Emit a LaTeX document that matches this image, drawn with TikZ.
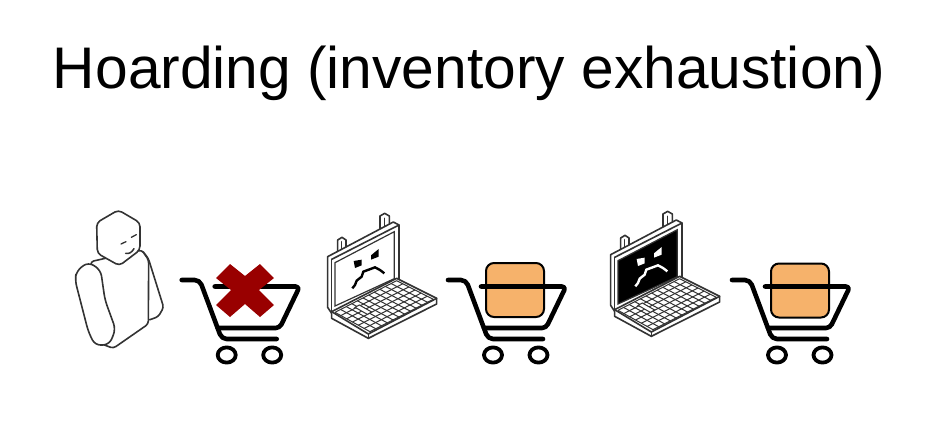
\documentclass[tikz,border=0pt]{standalone}
\usepackage{fontspec}
\setmainfont{Liberation Sans}
\usetikzlibrary{calc}
\definecolor{boxorange}{HTML}{F6B26B}
\definecolor{crossred}{HTML}{990000}
\definecolor{inkgrey}{HTML}{333333}
\tikzset{
    outline/.style={draw=inkgrey,line width=1.6pt,line join=round,line cap=round},
    cartline/.style={draw=black,line width=4.6pt,line cap=round,line join=round},
    goods/.style={draw=black,line width=2pt,fill=boxorange,rounded corners=8pt,minimum width=58pt,minimum height=54pt,inner sep=0pt},
    pics/cart/.style={code={
        %% frame
        \draw[cartline,rounded corners=5pt] (0,0) -- (18,0) -- (40,59) -- (95,59);
        \draw[cartline,rounded corners=4pt] (33,6.5) -- (118,6.5) -- (98,48) -- (36,48);
        %% wheels
        \draw[cartline,line width=3.8pt] (45,75) ellipse (9 and 7.6);
        \draw[cartline,line width=3.8pt] (90.5,75) ellipse (9 and 7.6);
    }},
    pics/laptop/.style n args={2}{code={
        \begin{scope}[x=0.3333pt,y=-0.3333pt]
            %% posts
            \draw[outline,fill=white] (38,127) -- (38,90) -- (51,82) -- (63,90) -- (63,115);
            \draw[outline] (50,95) -- (50,122);
            \draw[outline,fill=white] (165,68) -- (165,18) -- (179,10) -- (193,18) -- (193,55);
            \draw[outline] (178,25) -- (178,62);
            %% lid
            \draw[outline,fill=white] (8,140) -- (205,36) -- (222,45) -- (222,210) -- (20,310) -- (8,292) -- cycle;
            \draw[outline] (20,148) -- (222,45);
            \draw[outline] (20,148) -- (20,310);
            \fill[#1,draw=inkgrey,line width=1.2pt] (30,158) -- (208,65) -- (208,206) -- (30,288) -- cycle;
            %% face
            \fill[#2] (86,153) -- (110,149) -- (110,166) -- (90,174) -- cycle;
            \fill[#2] (138,136) -- (161,117) -- (161,140) -- (138,149) -- cycle;
            \draw[#2,line width=2.4pt] (82,235) -- (90,225) -- (95,212) -- (110,200) -- (115,185) -- (150,172) -- (165,180) -- (178,190);
            %% base
            \draw[outline,fill=white] (20,305) -- (215,205) -- (335,265) -- (335,282) -- (130,385) -- (20,325) -- cycle;
            \draw[outline] (20,305) -- (130,372) -- (335,265);
            \draw[outline] (130,372) -- (130,385);
            %% keys
            \foreach \t in {0,1,...,6}
                \draw[inkgrey,line width=1pt] ($(30,307)!\t/6!(135,365)$) -- ($(215,212)!\t/6!(325,268)$);
            \foreach \t in {0,1,...,11}
                \draw[inkgrey,line width=1pt] ($(30,307)!\t/11!(215,212)$) -- ($(135,365)!\t/11!(325,268)$);
            \draw[inkgrey,line width=1pt,fill=white] (90,292) -- (103,285) -- (140,306) -- (127,313) -- cycle;
        \end{scope}
    }},
}
\begin{document}
\begin{tikzpicture}[x=1pt,y=-1pt]
    \useasboundingbox (0,0) rectangle (950,432);
    %% title
    \node[font=\fontsize{58.7}{64}\selectfont] (title) at (469,73) {Hoarding (inventory exhaustion)};
    %% person
    \begin{scope}[shift={(60,200)},x=0.3333pt,y=-0.3333pt]
        \draw[outline,fill=white,rounded corners=3pt] (245,150) -- (265,175) -- (311,322) -- (295,350) -- (262,362) -- cycle;
        \draw[outline,fill=white,rounded corners=3pt] (92,185) -- (245,150) -- (266,180) -- (265,372) -- (160,445) -- (125,432) -- cycle;
        \draw[outline,fill=white,rounded corners=6pt] (85,186) -- (50,212) -- (45,240) -- (85,395) -- (105,436) -- (148,434) -- (167,388) -- (135,300) -- (122,210) -- cycle;
        \draw[outline,fill=white,rounded corners=4pt] (175,30) -- (240,68) -- (240,150) -- (178,197) -- (112,160) -- (110,68) -- cycle;
        %% eyes and mouth
        \draw[outline,line width=1.3pt] (183,132) -- (198,125);
        \draw[outline,line width=1.3pt] (214,112) -- (229,104);
        \draw[outline,line width=1.5pt] (197,160) .. controls (207,162) and (215,158) .. (222,146);
    \end{scope}
    %% first cart
    \pic at (181.7,280) {cart};
    \fill[crossred] (245,290) ++(-15,-26) -- ++(15,12) -- ++(15,-12) -- ++(14,14) -- ++(-15,12) -- ++(15,15) -- ++(-14,12) -- ++(-15,-13) -- ++(-15,13) -- ++(-14,-12) -- ++(15,-15) -- ++(-15,-12) -- cycle;
    %% first laptop
    \pic at (325,210) {laptop={white}{black}};
    \node[goods] (boxA) at (515,290) {};
    \pic at (448,280) {cart};
    %% second laptop
    \pic at (608,208) {laptop={black}{white}};
    \node[goods] (boxB) at (800,290.5) {};
    \pic at (732,280) {cart};
\end{tikzpicture}
\end{document}
